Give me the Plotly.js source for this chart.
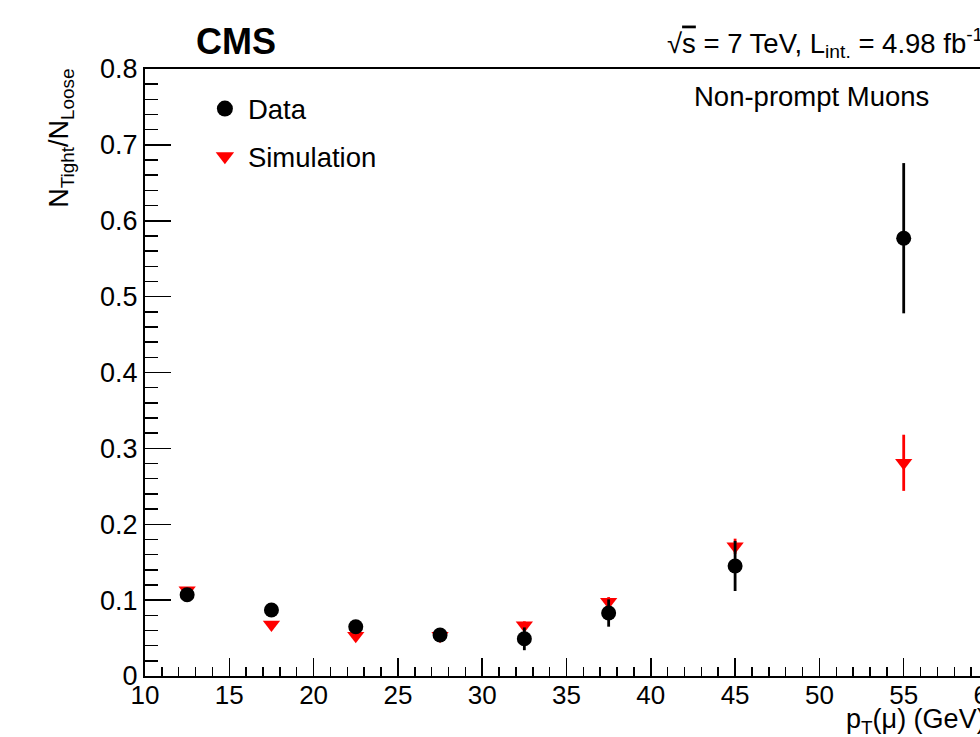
<!DOCTYPE html>
<html>
<head>
<meta charset="utf-8">
<script src="https://cdn.plot.ly/plotly-3.0.1.min.js"></script>
<style>
html,body{margin:0;padding:0;overflow:hidden;background:#fff;}
#chart{width:1030px;height:737px;}
</style>
</head>
<body>
<div id="chart"></div>
<script>
// Bin centres (pT in GeV)
var ptBins = [12.5, 17.5, 22.5, 27.5, 32.5, 37.5, 45, 55];
// Data: N_Tight/N_Loose and uncertainties
var dataRatio = [0.107, 0.087, 0.065, 0.054, 0.049, 0.083, 0.145, 0.577];
var dataErr   = [0.006, 0.006, 0.005, 0.006, 0.015, 0.018, 0.033, 0.099];
// Simulation
var simRatio  = [0.113, 0.068, 0.053, 0.053, 0.067, 0.098, 0.171, 0.281];
var simErr    = [0.004, 0.004, 0.004, 0.004, 0.005, 0.006, 0.010, 0.037];

var seriesNames = ['Data', 'Simulation'];
var xTickVals = [10, 15, 20, 25, 30, 35, 40, 45, 50, 55, 60];
var yTickVals = [0, 0.1, 0.2, 0.3, 0.4, 0.5, 0.6, 0.7, 0.8];
var yTickText = ['0', '0.1', '0.2', '0.3', '0.4', '0.5', '0.6', '0.7', '0.8'];

var FONT = 'Liberation Sans, Arial, Helvetica, sans-serif';

var traces = [
  {
    x: ptBins, y: simRatio, type: 'scatter', mode: 'markers', showlegend: false,
    marker: {symbol: 'triangle-down', size: 15, color: '#ff0000'},
    error_y: {type: 'data', array: simErr, visible: true, color: '#ff0000', thickness: 2.8, width: 0},
    hoverinfo: 'x+y'
  },
  {
    x: ptBins, y: dataRatio, type: 'scatter', mode: 'markers', showlegend: false,
    marker: {symbol: 'circle', size: 15, color: '#000000'},
    error_y: {type: 'data', array: dataErr, visible: true, color: '#000000', thickness: 2.8, width: 0},
    hoverinfo: 'x+y'
  },
  // legend entries (no error bars)
  {
    x: [null], y: [null], type: 'scatter', mode: 'markers', name: seriesNames[0],
    legendgroup: 'a', marker: {symbol: 'circle', size: 16, color: '#000000'}
  },
  {
    x: [null], y: [null], type: 'scatter', mode: 'markers', name: seriesNames[1],
    legendgroup: 'b', marker: {symbol: 'triangle-down', size: 16, color: '#ff0000'}
  }
];

var layout = {
  width: 1030, height: 737,
  margin: {l: 145, r: 42, t: 69, b: 61, pad: 0},
  paper_bgcolor: '#ffffff', plot_bgcolor: '#ffffff',
  font: {family: FONT, color: '#000000', size: 26},
  showlegend: true,
  legend: {
    x: 0.0675, y: 0.975, xanchor: 'left', yanchor: 'top',
    traceorder: 'grouped', tracegroupgap: 9,
    font: {family: FONT, size: 27.5, color: '#000'},
    bgcolor: 'rgba(0,0,0,0)', itemwidth: 36
  },
  xaxis: {
    range: [10, 60], showgrid: false, zeroline: false,
    showline: true, linecolor: '#000', linewidth: 2, mirror: true,
    ticks: 'inside', ticklen: 18, tickwidth: 1.5, tickcolor: '#000',
    tickvals: xTickVals, ticktext: xTickVals.map(String),
    tickfont: {family: FONT, size: 26, color: '#000'},
    ticklabelstandoff: -5,
    minor: {dtick: 1, ticks: 'inside', ticklen: 9, tickwidth: 1.5, tickcolor: '#000', showgrid: false}
  },
  yaxis: {
    range: [0, 0.8], showgrid: false, zeroline: false,
    showline: true, linecolor: '#000', linewidth: 2, mirror: true,
    ticks: 'inside', ticklen: 26, tickwidth: 1.5, tickcolor: '#000',
    tickvals: yTickVals, ticktext: yTickText,
    tickfont: {family: FONT, size: 27, color: '#000'},
    minor: {dtick: 0.02, ticks: 'inside', ticklen: 13, tickwidth: 1.5, tickcolor: '#000', showgrid: false}
  },
  annotations: [
    {text: '<b>CMS</b>', xref: 'paper', yref: 'paper', x: 0.108, y: 1.046, xanchor: 'center', yanchor: 'middle',
     showarrow: false, font: {family: FONT, size: 36, color: '#000'}},
    {text: '√<span style="text-decoration:overline">s</span> = 7 TeV, L<sub>int.</sub> = 4.98 fb<sup>-1</sup>', xref: 'paper', yref: 'paper', x: 0.996, y: 1.043,
     xanchor: 'right', yanchor: 'middle', showarrow: false, font: {family: FONT, size: 27.5, color: '#000'}},
    {text: 'Non-prompt Muons', xref: 'paper', yref: 'paper', x: 0.791, y: 0.954, xanchor: 'center', yanchor: 'middle',
     showarrow: false, font: {family: FONT, size: 27.5, color: '#000'}},
    {text: 'N<sub>Tight</sub>/N<sub>Loose</sub>', xref: 'paper', yref: 'paper', x: -0.099, y: 0.886,
     xanchor: 'center', yanchor: 'middle', textangle: -90, showarrow: false,
     font: {family: FONT, size: 27, color: '#000'}},
    {text: 'p<sub>T</sub>(μ) (GeV)', xref: 'paper', yref: 'paper', x: 1.0, y: -0.074,
     xanchor: 'right', yanchor: 'middle', showarrow: false, font: {family: FONT, size: 27, color: '#000'}}
  ]
};

Plotly.newPlot('chart', traces, layout, {displayModeBar: false, staticPlot: true});
</script>
</body>
</html>
